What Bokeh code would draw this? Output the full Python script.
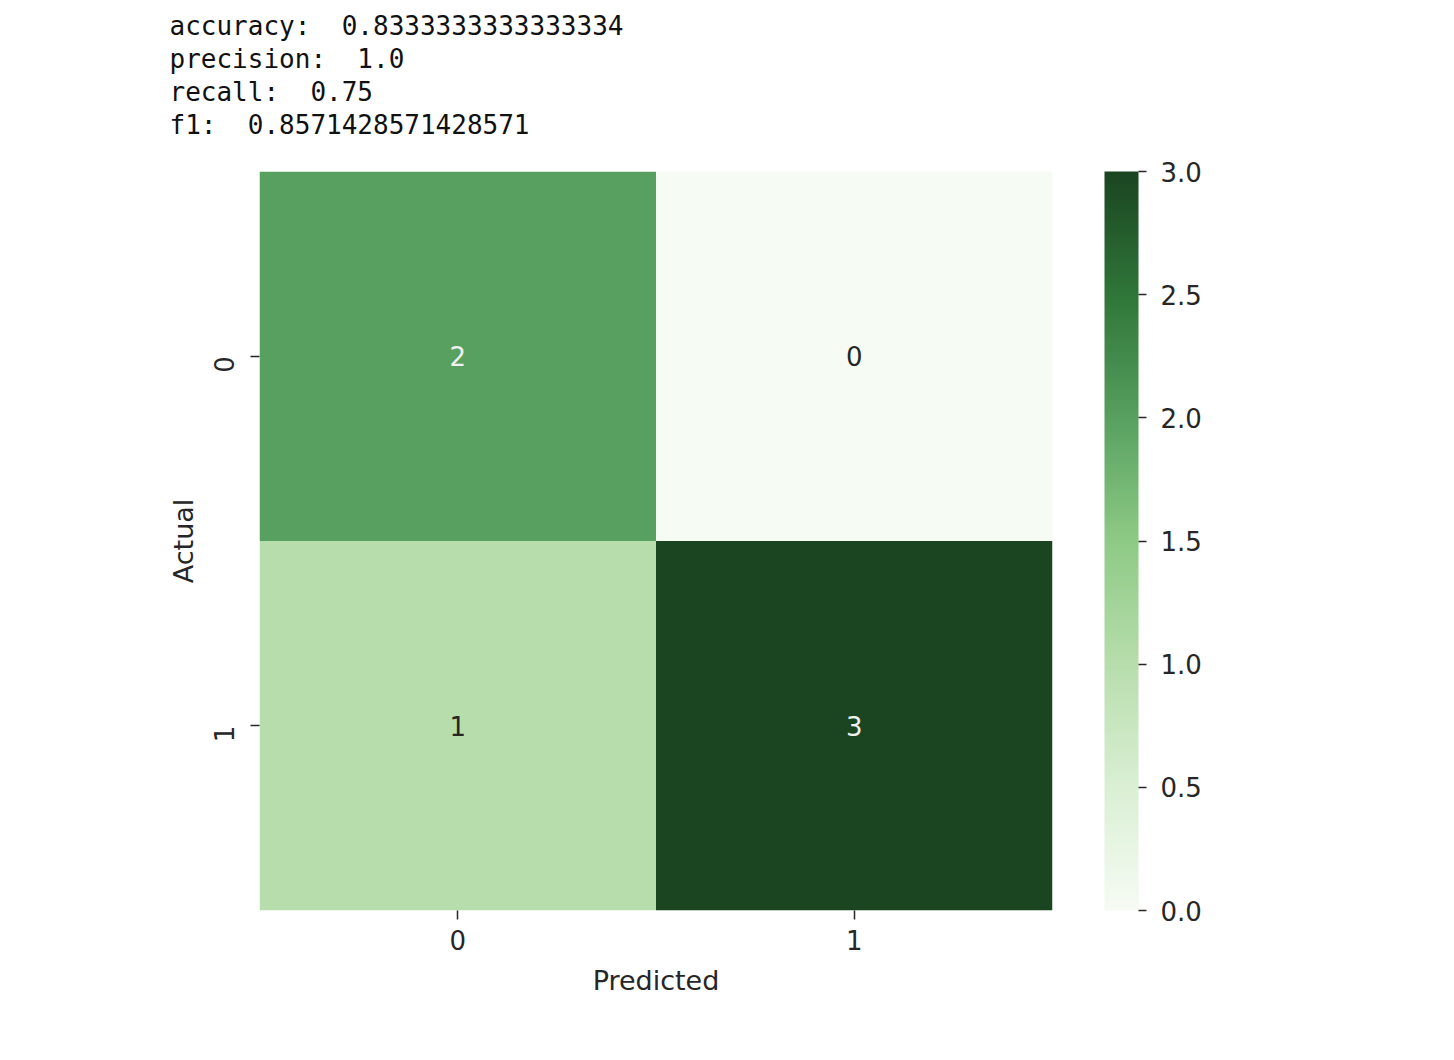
import numpy as np
from bokeh.plotting import figure
from bokeh.models import (ColumnDataSource, LinearColorMapper, ColorBar, FixedTicker,
                          Title, PrintfTickFormatter)
from bokeh.embed import file_html
from bokeh.resources import INLINE
from bokeh.core.properties import value

# ---- data ----
pred_labels = ["0", "1"]
actual_labels = ["0", "1"]
cells_pred = ["0", "1", "0", "1"]
cells_actual = ["0", "0", "1", "1"]
cells_count = [2, 0, 1, 3]
metric_names = ["accuracy", "precision", "recall", "f1"]
metric_values = ["0.8333333333333334", "1.0", "0.75", "0.8571428571428571"]
cbar_ticks = [0.0, 0.5, 1.0, 1.5, 2.0, 2.5, 3.0]

# ---- palette (style) ----
anchors = [(0.0, (246, 251, 244)), (0.5, (218, 239, 212)), (1.0, (183, 221, 172)),
           (1.5, (142, 202, 134)), (2.0, (87, 160, 95)), (2.5, (47, 118, 57)),
           (3.0, (27, 69, 33))]
palette = []
for t in np.linspace(0, 3, 256):
    for (a, ca), (b, cb_) in zip(anchors[:-1], anchors[1:]):
        if a <= t <= b:
            f = (t - a) / (b - a)
            c = [int(round(ca[k] + (cb_[k] - ca[k]) * f)) for k in range(3)]
            palette.append("#%02x%02x%02x" % tuple(c))
            break

FONT = "DejaVu Sans"
TXT = "#262626"

mapper = LinearColorMapper(palette=palette, low=0, high=3)

src = ColumnDataSource(dict(
    x=cells_pred, y=cells_actual, v=cells_count,
    txt=[str(c) for c in cells_count],
    tc=["#f0f0f0" if c >= 2 else TXT for c in cells_count],
))

p = figure(x_range=pred_labels, y_range=list(reversed(actual_labels)),
           frame_width=793, frame_height=739, output_backend="svg",
           toolbar_location=None, min_border_left=259, min_border_right=220,
           min_border_bottom=110, min_border_top=0)
p.title.visible = False
p.rect(x="x", y="y", width=1, height=1, source=src,
       fill_color={"field": "v", "transform": mapper}, line_color=None)
p.text(x="x", y="y", text="txt", source=src, text_color="tc",
       text_align="center", text_baseline="middle",
       text_font=value(FONT), text_font_size="26px")

p.grid.visible = False
p.outline_line_color = None
for ax in (p.xaxis, p.yaxis):
    ax.axis_line_color = None
    ax.major_tick_in = 0
    ax.major_tick_out = 9
    ax.major_tick_line_color = TXT
    ax.major_tick_line_width = 1.5
    ax.minor_tick_line_color = None
    ax.major_label_text_font = FONT
    ax.major_label_text_font_size = "26px"
    ax.major_label_text_color = TXT
    ax.axis_label_text_font = FONT
    ax.axis_label_text_font_size = "27px"
    ax.axis_label_text_font_style = "normal"
    ax.axis_label_text_color = TXT
p.xaxis.axis_label = "Predicted"
p.yaxis.axis_label = "Actual"
p.yaxis.major_label_orientation = np.pi / 2
p.xaxis.major_label_standoff = 10
p.yaxis.major_label_standoff = 27
p.xaxis.axis_label_standoff = 12
p.yaxis.axis_label_standoff = 2

cb = ColorBar(color_mapper=mapper, ticker=FixedTicker(ticks=cbar_ticks),
              formatter=PrintfTickFormatter(format="%.1f"),
              width=34, height=739, padding=0, margin=0, location=(52, 0),
              major_tick_in=0, major_tick_out=8, major_tick_line_color=TXT,
              major_tick_line_width=1.5, minor_tick_line_color=None,
              major_label_text_font=FONT, major_label_text_font_size="26px",
              major_label_text_color=TXT, label_standoff=14,
              bar_line_color=None, border_line_color=None,
              background_fill_color=None)
p.add_layout(cb, "right")

NB = "\u00a0"
inner_spacer = Title(text=NB, text_font_size="6px", standoff=23)
p.add_layout(inner_spacer, "above")
titles = [f"{n}: {NB}{v}" for n, v in zip(metric_names, metric_values)]
for txt in reversed(titles):
    t = Title(text=txt, align="left", offset=-90,
              text_font="DejaVu Sans Mono", text_font_size="26px",
              text_font_style="normal", text_color="#111111", standoff=1)
    p.add_layout(t, "above")
spacer = Title(text=NB, text_font_size="6px", standoff=0)
p.add_layout(spacer, "above")

open("out.html", "w").write(file_html(p, INLINE))
